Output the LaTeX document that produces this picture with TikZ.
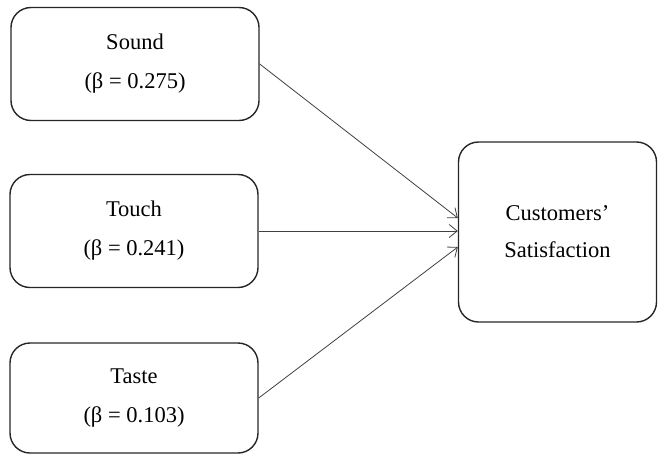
\documentclass[tikz,border=0pt]{standalone}
\usepackage{fontspec}
\setmainfont{Liberation Serif}
\usetikzlibrary{arrows.meta}
\begin{document}
\begin{tikzpicture}[x=1pt,y=-1pt,
  factor/.style={draw=black!85, line width=1.4pt, rounded corners=20pt,
    minimum width=248pt, minimum height=113pt, align=center,
    font=\fontsize{22.5}{39}\selectfont, inner sep=0pt},
  outcome/.style={factor, minimum width=198pt, minimum height=180pt,
    font=\fontsize{22.5}{37}\selectfont},
  link/.style={draw=black!75, line width=0.8pt,
    -{Straight Barb[length=8pt,width=13pt,line width=0.8pt]}}]
  \useasboundingbox (0,0) rectangle (658,455);
  \node[factor] (sound) at (135,64)  {Sound\\(β = 0.275)};
  \node[factor] (touch) at (134,231) {Touch\\(β = 0.241)};
  \node[factor, minimum height=110pt] (taste) at (134,398) {Taste\\(β = 0.103)};
  \node[outcome] (cs) at (557.5,232) {Customers’\\Satisfaction};
  % arrival points on the left side of the outcome box (y axis points down)
  \coordinate (in1) at (cs.west |- 0,218);
  \coordinate (in2) at (cs.west |- touch.east);
  \coordinate (in3) at (cs.west |- 0,247);
  \draw[link] (sound.east) -- (in1);
  \draw[link] (touch.east) -- (in2);
  \draw[link] (taste.east) -- (in3);
\end{tikzpicture}
\end{document}
